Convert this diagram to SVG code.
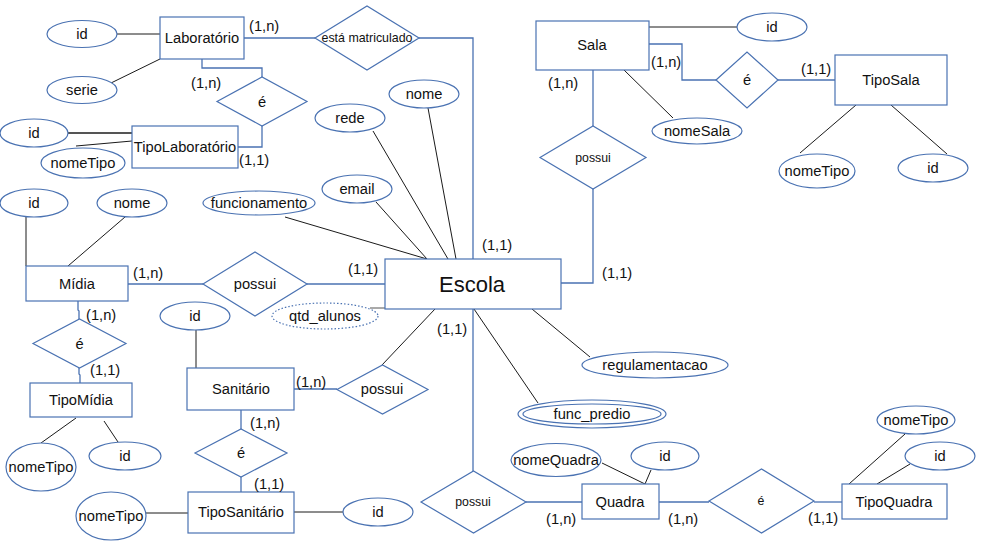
<svg xmlns="http://www.w3.org/2000/svg" width="982" height="551" viewBox="0 0 982 551">
  <style>
    .shape { fill: #ffffff; stroke: #4a72b2; stroke-width: 1.2; }
    .dotted { fill: #ffffff; stroke: #4a72b2; stroke-width: 1.2; stroke-dasharray: 1.5 2; }
    .link { fill: none; stroke: #4a72b2; stroke-width: 1.3; }
    .attr { fill: none; stroke: #1a1a1a; stroke-width: 1; }
    text { font-family: "Liberation Sans", Arial, sans-serif; font-size: 14.7px; fill: #111111; text-anchor: middle; }
    .card { text-anchor: start; }
    .small { font-size: 12.3px; }
    .big { font-size: 22px; }
  </style>
  <rect width="982" height="551" fill="#ffffff"/>

  <!-- connectors -->
  <g id="connectors">
    <!-- relationship lines -->
    <polyline class="link" points="244,38 315,38"/>
    <polyline class="link" points="419,38 473,38 473,259"/>
    <polyline class="link" points="202,59 202,68 262,68 262,77"/>
    <polyline class="link" points="262,126 262,147 238,147"/>
    <polyline class="link" points="649,44 682,44 682,80 716,80"/>
    <polyline class="link" points="778,80 835,80"/>
    <polyline class="link" points="593,70 593,126"/>
    <polyline class="link" points="593,189 593,283 561,283"/>
    <polyline class="link" points="128,284 203,284"/>
    <polyline class="link" points="307,284 385,284"/>
    <polyline class="link" points="78,301 78,310 79,311 79,319"/>
    <polyline class="link" points="79,368 79,374 80,375 80,383"/>
    <polyline class="link" points="294,389 337,389"/>
    <polyline class="link" points="241,410 241,429"/>
    <polyline class="link" points="241,477 241,492"/>
    <polyline class="link" points="473,309 473,471"/>
    <polyline class="link" points="526,502 582,502"/>
    <polyline class="link" points="659,502 709,502"/>
    <polyline class="link" points="814,502 842,502"/>
    <!-- attribute lines -->
    <line class="attr" x1="117" y1="34" x2="160" y2="34"/>
    <line class="attr" x1="111" y1="83" x2="160" y2="59"/>
    <line class="attr" x1="68" y1="133" x2="132" y2="133" style="stroke:#555555;stroke-width:1.8"/>
    <line class="attr" x1="76" y1="146" x2="132" y2="141"/>
    <line class="attr" x1="649" y1="27" x2="737" y2="27"/>
    <line class="attr" x1="624" y1="70" x2="673" y2="118"/>
    <line class="attr" x1="856" y1="105" x2="800" y2="153"/>
    <line class="attr" x1="891" y1="105" x2="947" y2="154"/>
    <line class="attr" x1="428" y1="108" x2="456" y2="259"/>
    <line class="attr" x1="373" y1="131" x2="448" y2="259"/>
    <line class="attr" x1="376" y1="202" x2="427" y2="259"/>
    <line class="attr" x1="285" y1="217" x2="427" y2="259"/>
    <line class="attr" x1="26" y1="217" x2="26" y2="266"/>
    <line class="attr" x1="125" y1="217" x2="68" y2="266"/>
    <line class="attr" x1="370" y1="308" x2="385" y2="308" style="stroke:#555555"/>
    <line class="attr" x1="532" y1="309" x2="590" y2="357"/>
    <line class="attr" x1="474" y1="309" x2="538" y2="403"/>
    <line class="attr" x1="435" y1="309" x2="382" y2="365"/>
    <line class="attr" x1="196" y1="330" x2="196" y2="368"/>
    <line class="attr" x1="41" y1="443" x2="76" y2="418"/>
    <line class="attr" x1="118" y1="442" x2="104" y2="421"/>
    <line class="attr" x1="146" y1="513" x2="188" y2="513"/>
    <line class="attr" x1="294" y1="512" x2="343" y2="512"/>
    <line class="attr" x1="602" y1="463" x2="645" y2="484"/>
    <line class="attr" x1="651" y1="470" x2="645" y2="484"/>
    <line class="attr" x1="905" y1="434" x2="849" y2="484"/>
    <line class="attr" x1="910" y1="464" x2="877" y2="484"/>
  </g>

  <!-- Laboratório -->
  <g id="laboratorio">
    <rect class="shape" x="160" y="17" width="84" height="42"/>
    <text x="202" y="43">Laboratório</text>
  </g>
  <g id="lab-id"><ellipse class="shape" cx="82" cy="34" rx="35" ry="13.5"/><text x="82" y="39">id</text></g>
  <g id="lab-serie"><ellipse class="shape" cx="82" cy="90" rx="35" ry="13.5"/><text x="82" y="95">serie</text></g>
  <g id="rel-matriculado">
    <polygon class="shape" points="315,38 367,6 419,38 367,70"/>
    <text class="small" x="367" y="42" style="font-size:12.4px">está matriculado</text>
  </g>
  <g id="rel-lab-e">
    <polygon class="shape" points="217,101.5 262,77 307,101.5 262,126"/>
    <text x="262" y="107">é</text>
  </g>
  <g id="tipo-laboratorio">
    <rect class="shape" x="132" y="126" width="106" height="42"/>
    <text x="185" y="152">TipoLaboratório</text>
  </g>
  <g id="tipolab-id"><ellipse class="shape" cx="34" cy="133" rx="34" ry="14"/><text x="34" y="138">id</text></g>
  <g id="tipolab-nome"><ellipse class="shape" cx="83" cy="163" rx="42" ry="15"/><text x="83" y="168">nomeTipo</text></g>

  <!-- Sala -->
  <g id="sala">
    <rect class="shape" x="536" y="21" width="113" height="49"/>
    <text x="592" y="50">Sala</text>
  </g>
  <g id="sala-id"><ellipse class="shape" cx="772" cy="27" rx="35" ry="14"/><text x="772" y="32">id</text></g>
  <g id="sala-nome"><ellipse class="shape" cx="697" cy="131" rx="45" ry="13"/><text x="697" y="136">nomeSala</text></g>
  <g id="rel-sala-e">
    <polygon class="shape" points="716,80 747,52 778,80 747,108"/>
    <text x="747" y="85">é</text>
  </g>
  <g id="tipo-sala">
    <rect class="shape" x="835" y="55" width="112" height="50"/>
    <text x="891" y="85">TipoSala</text>
  </g>
  <g id="tiposala-nome"><ellipse class="shape" cx="817" cy="171" rx="38" ry="17"/><text x="817" y="176">nomeTipo</text></g>
  <g id="tiposala-id"><ellipse class="shape" cx="933" cy="168" rx="35" ry="14"/><text x="933" y="173">id</text></g>
  <g id="rel-sala-possui">
    <polygon class="shape" points="540,157.5 593,126 646,157.5 593,189"/>
    <text class="small" x="593" y="162">possui</text>
  </g>

  <!-- Escola -->
  <g id="escola">
    <rect class="shape" x="385" y="259" width="176" height="50"/>
    <text class="big" x="472" y="292">Escola</text>
  </g>
  <g id="escola-nome"><ellipse class="shape" cx="424" cy="94" rx="35" ry="14"/><text x="424" y="99">nome</text></g>
  <g id="escola-rede"><ellipse class="shape" cx="350" cy="118" rx="35" ry="14"/><text x="350" y="123">rede</text></g>
  <g id="escola-email"><ellipse class="shape" cx="357" cy="189" rx="35" ry="14"/><text x="357" y="194">email</text></g>
  <g id="escola-funcionamento"><ellipse class="shape" cx="259" cy="203" rx="56" ry="12"/><text x="259" y="208">funcionamento</text></g>
  <g id="escola-qtd-alunos"><ellipse class="dotted" cx="325" cy="316" rx="53" ry="13"/><text x="325" y="321">qtd_alunos</text></g>
  <g id="escola-regulamentacao"><ellipse class="shape" cx="655" cy="365" rx="73" ry="13"/><text x="655" y="370">regulamentacao</text></g>
  <g id="escola-func-predio">
    <ellipse class="shape" cx="592" cy="414" rx="74" ry="14"/>
    <ellipse class="shape" cx="592" cy="414" rx="69" ry="10"/>
    <text x="592" y="419">func_predio</text>
  </g>

  <!-- Mídia -->
  <g id="midia">
    <rect class="shape" x="26" y="266" width="102" height="35"/>
    <text x="77" y="289">Mídia</text>
  </g>
  <g id="midia-id"><ellipse class="shape" cx="34" cy="203" rx="34" ry="14"/><text x="34" y="208">id</text></g>
  <g id="midia-nome"><ellipse class="shape" cx="132" cy="203" rx="35" ry="14"/><text x="132" y="208">nome</text></g>
  <g id="rel-midia-possui">
    <polygon class="shape" points="203,284 255,252 307,284 255,316"/>
    <text x="255" y="289">possui</text>
  </g>
  <g id="rel-midia-e">
    <polygon class="shape" points="33,343.5 79.5,319 126,343.5 79.5,368"/>
    <text x="79.5" y="349">é</text>
  </g>
  <g id="tipo-midia">
    <rect class="shape" x="30" y="383" width="102" height="34"/>
    <text x="81" y="405">TipoMídia</text>
  </g>
  <g id="tipomidia-nome"><ellipse class="shape" cx="41" cy="467" rx="35" ry="24"/><text x="41" y="472">nomeTipo</text></g>
  <g id="tipomidia-id"><ellipse class="shape" cx="125" cy="456" rx="36" ry="14"/><text x="125" y="461">id</text></g>

  <!-- Sanitário -->
  <g id="sanitario">
    <rect class="shape" x="187" y="368" width="107" height="42"/>
    <text x="241" y="394">Sanitário</text>
  </g>
  <g id="sanitario-id"><ellipse class="shape" cx="195" cy="316" rx="35" ry="14"/><text x="195" y="321">id</text></g>
  <g id="rel-sanitario-possui">
    <polygon class="shape" points="337,389.5 382.5,365 428,389.5 382.5,414"/>
    <text x="382" y="394">possui</text>
  </g>
  <g id="rel-sanitario-e">
    <polygon class="shape" points="195,453 241,429 287,453 241,477"/>
    <text x="241" y="458">é</text>
  </g>
  <g id="tipo-sanitario">
    <rect class="shape" x="188" y="492" width="106" height="41"/>
    <text x="241" y="517">TipoSanitário</text>
  </g>
  <g id="tiposanitario-nome"><ellipse class="shape" cx="111" cy="516" rx="35" ry="24"/><text x="111" y="521">nomeTipo</text></g>
  <g id="tiposanitario-id"><ellipse class="shape" cx="378" cy="512" rx="35" ry="14"/><text x="378" y="517">id</text></g>

  <!-- Quadra -->
  <g id="rel-quadra-possui">
    <polygon class="shape" points="421,502 473.5,471 526,502 473.5,533"/>
    <text class="small" x="473" y="506">possui</text>
  </g>
  <g id="quadra">
    <rect class="shape" x="582" y="484" width="77" height="35"/>
    <text x="620" y="507">Quadra</text>
  </g>
  <g id="quadra-nome"><ellipse class="shape" cx="556" cy="460" rx="45" ry="16.5"/><text x="556" y="465">nomeQuadra</text></g>
  <g id="quadra-id"><ellipse class="shape" cx="665" cy="456" rx="34" ry="14"/><text x="665" y="461">id</text></g>
  <g id="rel-quadra-e">
    <polygon class="shape" points="709,501 761.5,469 814,501 761.5,533"/>
    <text class="small" x="761" y="505">é</text>
  </g>
  <g id="tipo-quadra">
    <rect class="shape" x="842" y="484" width="105" height="35"/>
    <text x="894" y="507">TipoQuadra</text>
  </g>
  <g id="tipoquadra-nome"><ellipse class="shape" cx="916" cy="420" rx="39" ry="14"/><text x="916" y="425">nomeTipo</text></g>
  <g id="tipoquadra-id"><ellipse class="shape" cx="940" cy="456" rx="35" ry="14"/><text x="940" y="461">id</text></g>

  <!-- cardinalities -->
  <g id="cardinalities">
    <text class="card" x="249" y="31">(1,n)</text>
    <text class="card" x="191" y="88">(1,n)</text>
    <text class="card" x="239" y="165">(1,1)</text>
    <text class="card" x="548" y="88">(1,n)</text>
    <text class="card" x="651" y="67">(1,n)</text>
    <text class="card" x="801" y="74">(1,1)</text>
    <text class="card" x="482" y="250">(1,1)</text>
    <text class="card" x="602" y="278">(1,1)</text>
    <text class="card" x="437" y="334">(1,1)</text>
    <text class="card" x="133" y="278">(1,n)</text>
    <text class="card" x="348" y="274">(1,1)</text>
    <text class="card" x="86" y="320">(1,n)</text>
    <text class="card" x="90" y="375">(1,1)</text>
    <text class="card" x="296" y="387">(1,n)</text>
    <text class="card" x="250" y="428">(1,n)</text>
    <text class="card" x="254" y="489">(1,1)</text>
    <text class="card" x="546" y="524">(1,n)</text>
    <text class="card" x="668" y="524">(1,n)</text>
    <text class="card" x="808" y="523">(1,1)</text>
  </g>
</svg>
